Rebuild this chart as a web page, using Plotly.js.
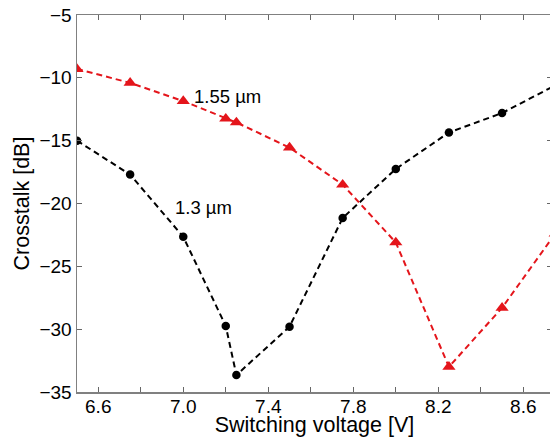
<!DOCTYPE html>
<html><head><meta charset="utf-8">
<script src="https://cdn.plot.ly/plotly-3.0.1.min.js"></script>
<style>html,body{margin:0;padding:0;overflow:hidden;background:#fff}</style>
</head><body><div id="chart"></div>
<script>
const voltage = [6.5, 6.75, 7.0, 7.2, 7.25, 7.5, 7.75, 8.0, 8.25, 8.5, 8.75];
const crosstalk13 = [-15.0, -17.7, -22.65, -29.75, -33.65, -29.8, -21.15, -17.25, -14.35, -12.8, -10.6];
const crosstalk155 = [-9.3, -10.4, -11.85, -13.25, -13.55, -15.55, -18.5, -23.1, -33.0, -28.3, -22.4];
const labels = ["1.55 \u00b5m", "1.3 \u00b5m"];
const labelX = [7.04, 6.95];
const labelY = [-11.45, -20.3];

const red = '#e4151b';
const traces = [
  {x: voltage, y: crosstalk13, mode: 'lines+markers', name: '1.3 µm',
   line: {color: '#000', width: 2, dash: '6px,4px'},
   marker: {symbol: 'circle', size: 8.5, color: '#000'}, cliponaxis: true},
  {x: voltage, y: crosstalk155, mode: 'lines+markers', name: '1.55 µm',
   line: {color: red, width: 2, dash: '6px,4px'},
   marker: {symbol: 'triangle-up', size: 11.5, color: red}, cliponaxis: true}
];
const fam = '"Liberation Sans", Arial, sans-serif';
const layout = {
  width: 555, height: 437,
  margin: {l: 77, r: 3, t: 15, b: 45},
  showlegend: false,
  paper_bgcolor: '#fff', plot_bgcolor: '#fff',
  font: {family: fam, color: '#000'},
  xaxis: {
    range: [6.5, 8.735], tickvals: [6.6,6.8,7.0,7.2,7.4,7.6,7.8,8.0,8.2,8.4,8.6],
    ticktext: ['6.6','','7.0','','7.4','','7.8','','8.2','','8.6'],
    ticks: 'inside', ticklen: 5, tickcolor: '#666', mirror: 'ticks',
    showline: true, linecolor: '#808080', linewidth: 1.5, showgrid: false, zeroline: false,
    tickfont: {size: 19, family: fam, color: '#000'},
    ticklabelstandoff: -3,
    automargin: false,
    title: {text: 'Switching voltage [V]', font: {size: 21.5, family: fam, color: '#000'}, standoff: 0}
  },
  yaxis: {
    range: [-35, -5], dtick: 5, tick0: -35,
    ticks: 'inside', ticklen: 5, tickcolor: '#666', mirror: 'ticks',
    showline: true, linecolor: '#808080', linewidth: 1.5, showgrid: false, zeroline: false,
    tickfont: {size: 19, family: fam, color: '#000'},
    automargin: false,
    title: {text: 'Crosstalk [dB]', font: {size: 21.5, family: fam, color: '#000'}, standoff: 4}
  },
  annotations: labels.map((t, i) => ({
    x: labelX[i], y: labelY[i], xref: 'x', yref: 'y', text: t, showarrow: false,
    xanchor: 'left', yanchor: 'middle', font: {size: 18.5, family: fam, color: '#000'}
  }))
};
Plotly.newPlot('chart', traces, layout, {staticPlot: true, displayModeBar: false});
</script></body></html>
